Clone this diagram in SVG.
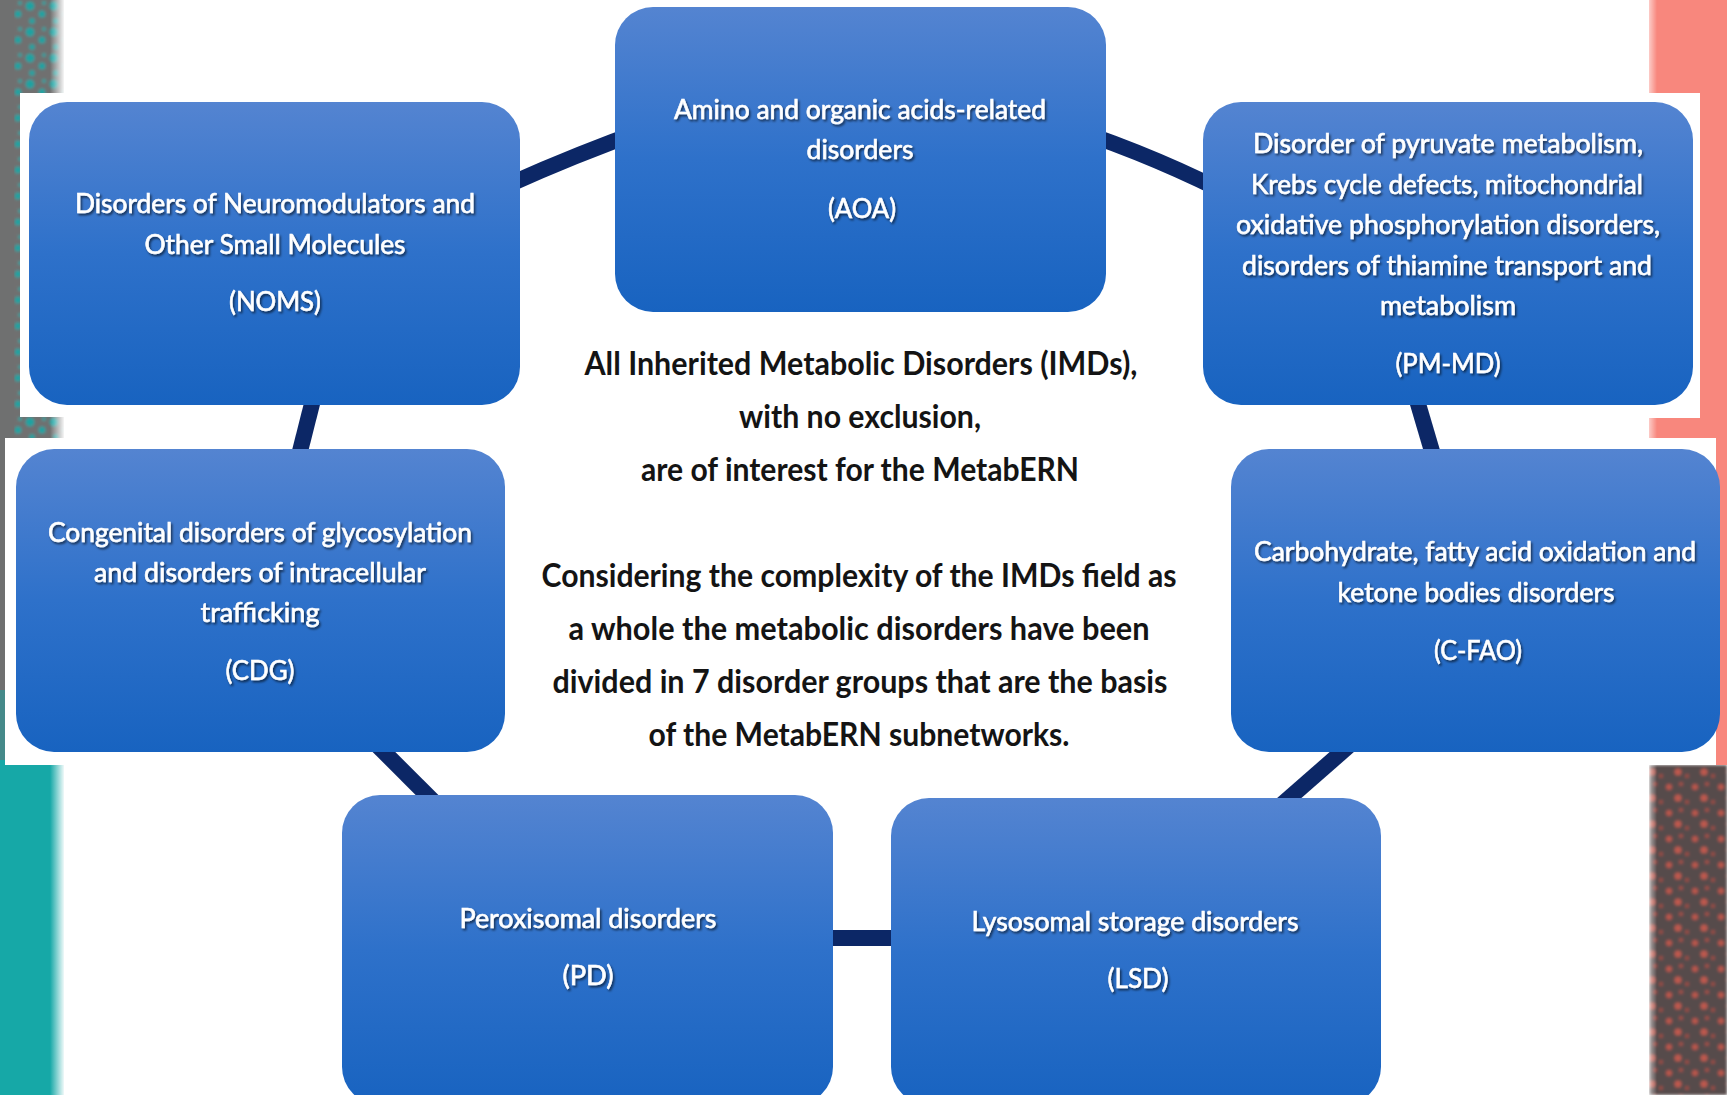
<svg xmlns="http://www.w3.org/2000/svg" width="1727" height="1095" viewBox="0 0 1727 1095">
<defs>
<style>
.box{fill:url(#boxg);}
.bt{fill:#ffffff;stroke:#ffffff;stroke-width:0.6px;font-family:Lato,"Open Sans","Liberation Sans",sans-serif;font-size:27px;text-anchor:middle;}
.ct{fill:#141414;font-family:Lato,"Open Sans","Liberation Sans",sans-serif;font-size:32px;font-weight:bold;text-anchor:middle;}
.conn{fill:none;stroke:#0c2766;stroke-width:16;stroke-linecap:butt;}
.glow{fill:#ffffff;}
</style>
<linearGradient id="boxg" x1="0" y1="0" x2="0" y2="1">
<stop offset="0" stop-color="#5484d1"/>
<stop offset="0.5" stop-color="#2e71ca"/>
<stop offset="1" stop-color="#1863c0"/>
</linearGradient>
<linearGradient id="fadeL" x1="0" y1="0" x2="1" y2="0">
<stop offset="0" stop-color="#ffffff" stop-opacity="0"/>
<stop offset="1" stop-color="#ffffff" stop-opacity="1"/>
</linearGradient>
<linearGradient id="fadeR" x1="0" y1="0" x2="1" y2="0">
<stop offset="0" stop-color="#ffffff" stop-opacity="1"/>
<stop offset="1" stop-color="#ffffff" stop-opacity="0"/>
</linearGradient>
<pattern id="dotsL" width="24" height="26" patternUnits="userSpaceOnUse">
<rect width="24" height="26" fill="#6f7070"/>
<circle cx="6" cy="6" r="4.5" fill="#1fa3a2"/>
<circle cx="18" cy="14" r="3.5" fill="#1fa3a2"/>
<circle cx="8" cy="21" r="3" fill="#22a09f"/>
<circle cx="20" cy="3" r="2" fill="#2aa3a2"/>
</pattern>
<pattern id="dotsR" width="26" height="26" patternUnits="userSpaceOnUse">
<rect width="26" height="26" fill="#574b4b"/>
<circle cx="5" cy="7" r="3" fill="#b9544b"/>
<circle cx="17" cy="4" r="2" fill="#a94d46"/>
<circle cx="14" cy="18" r="3.5" fill="#bd584e"/>
<circle cx="23" cy="22" r="2" fill="#a04a43"/>
</pattern>
<filter id="soft" x="0" y="0" width="100%" height="100%">
<feGaussianBlur stdDeviation="1.6"/>
</filter>
<filter id="ts" x="-5%" y="-30%" width="110%" height="160%">
<feDropShadow dx="1.5" dy="2" stdDeviation="1" flood-color="#000000" flood-opacity="0.6"/>
</filter>
</defs>

<rect x="0" y="0" width="1727" height="1095" fill="#ffffff"/>

<g id="background-strips">
<rect x="0" y="0" width="64" height="760" fill="#6f7070"/>
<rect x="14" y="0" width="50" height="760" fill="url(#dotsL)" filter="url(#soft)"/>
<rect x="0" y="760" width="64" height="335" fill="#16a8a7"/>
<rect x="0" y="690" width="64" height="70" fill="#2a9a99" opacity="0.6"/>
<rect x="50" y="0" width="15" height="1095" fill="url(#fadeL)"/>
<rect x="1649" y="0" width="78" height="765" fill="#f8877d"/>
<rect x="1649" y="765" width="78" height="330" fill="url(#dotsR)" filter="url(#soft)"/>
<rect x="1643" y="0" width="14" height="1095" fill="url(#fadeR)"/>
<rect class="glow" x="20" y="93" width="60" height="324"/>
<rect class="glow" x="5" y="438" width="75" height="327"/>
<rect class="glow" x="1630" y="93" width="70" height="325"/>
<rect class="glow" x="1630" y="438" width="86" height="327"/>
</g>

<g id="connectors">
<path class="conn" d="M 480 198 Q 560 160 650 128"/>
<path class="conn" d="M 1070 128 Q 1160 158 1240 200"/>
<path class="conn" d="M 318 380 L 294 475"/>
<path class="conn" d="M 1411 380 L 1439 475"/>
<path class="conn" d="M 360 728 L 452 820"/>
<path class="conn" d="M 1368 729 L 1262 822"/>
<path class="conn" d="M 800 938 L 925 938"/>
</g>

<g id="node-aoa">
<rect class="box" x="615" y="7" width="491" height="305" rx="38"/>
<g filter="url(#ts)">
<text class="bt" x="860" y="119" textLength="372" lengthAdjust="spacingAndGlyphs">Amino and organic acids-related</text>
<text class="bt" x="860" y="159" textLength="107" lengthAdjust="spacingAndGlyphs">disorders</text>
<text class="bt" x="862" y="218" textLength="68" lengthAdjust="spacingAndGlyphs">(AOA)</text>
</g>
</g>

<g id="node-noms">
<rect class="box" x="29" y="102" width="491" height="303" rx="38"/>
<g filter="url(#ts)">
<text class="bt" x="275" y="213" textLength="400" lengthAdjust="spacingAndGlyphs">Disorders of Neuromodulators and</text>
<text class="bt" x="275" y="254" textLength="261" lengthAdjust="spacingAndGlyphs">Other Small Molecules</text>
<text class="bt" x="275" y="311" textLength="92" lengthAdjust="spacingAndGlyphs">(NOMS)</text>
</g>
</g>

<g id="node-pmmd">
<rect class="box" x="1203" y="102" width="490" height="303" rx="38"/>
<g filter="url(#ts)">
<text class="bt" x="1448" y="153" textLength="390" lengthAdjust="spacingAndGlyphs">Disorder of pyruvate metabolism,</text>
<text class="bt" x="1447" y="194" textLength="392" lengthAdjust="spacingAndGlyphs">Krebs cycle defects, mitochondrial</text>
<text class="bt" x="1448" y="234" textLength="424" lengthAdjust="spacingAndGlyphs">oxidative phosphorylation disorders,</text>
<text class="bt" x="1447" y="275" textLength="410" lengthAdjust="spacingAndGlyphs">disorders of thiamine transport and</text>
<text class="bt" x="1448" y="315" textLength="136" lengthAdjust="spacingAndGlyphs">metabolism</text>
<text class="bt" x="1448" y="373" textLength="105" lengthAdjust="spacingAndGlyphs">(PM-MD)</text>
</g>
</g>

<g id="node-cdg">
<rect class="box" x="16" y="449" width="489" height="303" rx="38"/>
<g filter="url(#ts)">
<text class="bt" x="260" y="542" textLength="424" lengthAdjust="spacingAndGlyphs">Congenital disorders of glycosylation</text>
<text class="bt" x="260" y="582" textLength="332" lengthAdjust="spacingAndGlyphs">and disorders of intracellular</text>
<text class="bt" x="260" y="622" textLength="119" lengthAdjust="spacingAndGlyphs">trafficking</text>
<text class="bt" x="260" y="680" textLength="69" lengthAdjust="spacingAndGlyphs">(CDG)</text>
</g>
</g>

<g id="node-cfao">
<rect class="box" x="1231" y="449" width="489" height="303" rx="38"/>
<g filter="url(#ts)">
<text class="bt" x="1475" y="561" textLength="442" lengthAdjust="spacingAndGlyphs">Carbohydrate, fatty acid oxidation and</text>
<text class="bt" x="1476" y="602" textLength="277" lengthAdjust="spacingAndGlyphs">ketone bodies disorders</text>
<text class="bt" x="1478" y="660" textLength="88" lengthAdjust="spacingAndGlyphs">(C-FAO)</text>
</g>
</g>

<g id="node-pd">
<rect class="box" x="342" y="795" width="491" height="310" rx="38"/>
<g filter="url(#ts)">
<text class="bt" x="588" y="928" textLength="257" lengthAdjust="spacingAndGlyphs">Peroxisomal disorders</text>
<text class="bt" x="588" y="985" textLength="51" lengthAdjust="spacingAndGlyphs">(PD)</text>
</g>
</g>

<g id="node-lsd">
<rect class="box" x="891" y="798" width="490" height="307" rx="38"/>
<g filter="url(#ts)">
<text class="bt" x="1135" y="931" textLength="327" lengthAdjust="spacingAndGlyphs">Lysosomal storage disorders</text>
<text class="bt" x="1138" y="988" textLength="61" lengthAdjust="spacingAndGlyphs">(LSD)</text>
</g>
</g>

<g id="center-text">
<text class="ct" x="861" y="375" textLength="553" lengthAdjust="spacingAndGlyphs">All Inherited Metabolic Disorders (IMDs),</text>
<text class="ct" x="860" y="428" textLength="242" lengthAdjust="spacingAndGlyphs">with no exclusion,</text>
<text class="ct" x="860" y="481" textLength="438" lengthAdjust="spacingAndGlyphs">are of interest for the MetabERN</text>
<text class="ct" x="859" y="587" textLength="635" lengthAdjust="spacingAndGlyphs">Considering the complexity of the IMDs field as</text>
<text class="ct" x="859" y="640" textLength="581" lengthAdjust="spacingAndGlyphs">a whole the metabolic disorders have been</text>
<text class="ct" x="860" y="693" textLength="615" lengthAdjust="spacingAndGlyphs">divided in 7 disorder groups that are the basis</text>
<text class="ct" x="859" y="746" textLength="421" lengthAdjust="spacingAndGlyphs">of the MetabERN subnetworks.</text>
</g>
</svg>
